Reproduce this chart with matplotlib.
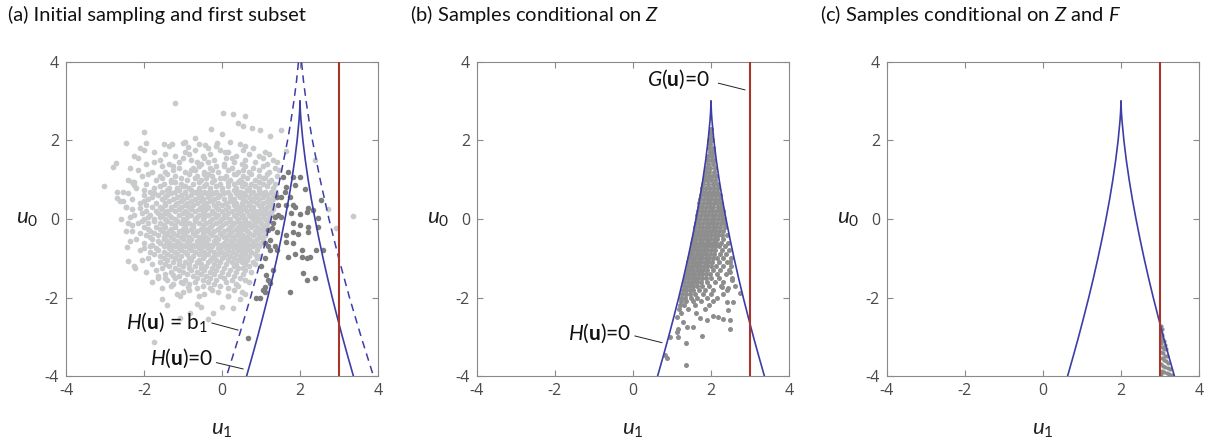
import numpy as np
import matplotlib.pyplot as plt

plt.rcParams['font.family'] = ['Lato', 'DejaVu Sans']
plt.rcParams['mathtext.fontset'] = 'custom'
plt.rcParams['mathtext.rm'] = 'Lato'
plt.rcParams['mathtext.it'] = 'Lato:italic'
plt.rcParams['mathtext.bf'] = 'Lato:bold'
plt.rcParams['axes.unicode_minus'] = False

# limit-state curves: u0 levels and half-width around the cusp
cusp_u1 = 2.0
g_u1 = 3.0
h0_u0 = [3.0, 2.9, 2.8, 2.7, 2.5, 2.0, 1.5, 1.0, 0.5, 0.0, -0.5, -1.0, -1.5, -2.0, -2.5, -3.0, -3.5, -4.0]
h0_half = [0.0, 0.002, 0.007, 0.012, 0.026, 0.074, 0.136, 0.209, 0.292, 0.385, 0.485, 0.592,
           0.706, 0.827, 0.955, 1.087, 1.226, 1.369]
hb_u0 = [4.65, 4.5, 4.2, 4.0, 3.5, 3.0, 2.5, 2.0, 1.0, 0.0, -1.0, -2.0, -3.0, -4.0]
hb_half = [0.0, 0.004, 0.022, 0.039, 0.091, 0.157, 0.233, 0.319, 0.518, 0.742, 0.993, 1.269, 1.567, 1.883]

# (a) initial samples, light cloud: rows of (u0, [u1 ...])
rows_a = [
    (1.95, [-0.95, 0.2]),
    (1.9, [-1.5, -0.6, 0.45]),
    (1.85, [-1.35, -0.15, 0.6]),
    (1.8, [-2.1, -0.35, 0.8]),
    (1.75, [-2.0, -0.7, -0.05, 0.55]),
    (1.7, [-1.75, -0.95, 0.15, 1.1]),
    (1.65, [-1.45, -0.85, -0.3, 0.7, 1.2]),
    (1.6, [-2.25, -1.2, -0.5, 0.35, 0.95]),
    (1.55, [-2.15, -1.0, -0.45, 0.1, 0.25, 1.05]),
    (1.5, [-1.6, -0.8, -0.2, 0.6, 1.3]),
    (1.45, [-1.75, -1.1, -0.65, -0.35, 0.3, 0.85, 1.4]),
    (1.4, [-1.95, -1.35, -0.55, 0.05, 0.5, 1.15]),
    (1.35, [-1.55, -1.25, -0.6, -0.15, 0.05, 0.6, 1.05]),
    (1.3, [-2.35, -1.1, -0.75, -0.3, 0.25, 0.8, 1.35]),
    (1.25, [-2.15, -1.25, -0.8, -0.7, -0.25, 0.15, 0.55, 0.95, 1.45]),
    (1.2, [-1.8, -1.45, -0.95, -0.45, -0.1, 0.4, 0.7, 1.2]),
    (1.15, [-1.9, -1.4, -0.85, -0.45, -0.35, 0.3, 0.35, 0.75, 1.15]),
    (1.1, [-2.05, -1.6, -1.2, -0.65, -0.25, 0.1, 0.55, 0.95, 1.4]),
    (1.05, [-1.55, -1.05, -0.7, -0.4, -0.05, 0.05, 0.65, 1.05, 1.1]),
    (1.0, [-2.4, -1.7, -1.3, -0.9, -0.55, -0.2, 0.2, 0.45, 0.85, 1.25]),
    (0.95, [-2.25, -1.3, -1.2, -0.6, -0.25, 0.15, 0.4, 0.5, 0.95, 1.2]),
    (0.9, [-1.95, -1.5, -1.05, -0.75, -0.4, -0.05, 0.3, 0.6, 0.75, 1.05, 1.35]),
    (0.85, [-1.6, -1.0, -0.95, -0.45, -0.15, 0.15, 0.5, 0.55, 0.85, 1.15]),
    (0.8, [-2.2, -1.75, -1.35, -1.15, -0.85, -0.6, -0.3, 0.0, 0.35, 0.7, 0.95, 1.3]),
    (0.75, [-2.0, -1.4, -1.1, -0.8, -0.6, -0.3, 0.0, 0.3, 0.35, 0.65, 0.95]),
    (0.7, [-2.55, -1.85, -1.55, -1.2, -0.95, -0.7, -0.45, -0.15, 0.15, 0.45, 0.8, 1.1, 1.25]),
    (0.65, [-2.4, -1.75, -1.3, -0.95, -0.65, -0.4, -0.2, 0.05, 0.35, 0.55, 0.75, 1.0, 1.38]),
    (0.6, [-2.0, -1.65, -1.4, -1.05, -0.8, -0.55, -0.3, -0.05, 0.2, 0.4, 0.6, 0.9, 1.15, 1.3]),
    (0.55, [-1.8, -1.45, -1.15, -0.9, -0.6, -0.35, -0.1, 0.2, 0.45, 0.7, 0.85, 1.05]),
    (0.5, [-2.3, -1.9, -1.55, -1.25, -1.0, -0.7, -0.5, -0.2, 0.05, 0.3, 0.55, 0.75, 0.95, 1.2, 1.3]),
    (0.45, [-2.55, -2.0, -1.35, -1.05, -0.8, -0.55, -0.3, -0.25, 0.2, 0.25, 0.6, 0.8, 1.15]),
    (0.4, [-2.1, -1.7, -1.45, -1.15, -0.9, -0.65, -0.4, -0.1, 0.1, 0.35, 0.5, 0.7, 0.9, 1.05, 1.25]),
    (0.35, [-1.95, -1.45, -1.2, -0.95, -0.75, -0.45, -0.2, 0.0, 0.3, 0.5, 0.7, 0.95, 1.2]),
    (0.3, [-2.45, -1.8, -1.6, -1.3, -1.05, -0.85, -0.55, -0.35, -0.15, 0.15, 0.4, 0.6, 0.8, 1.0, 1.15, 1.3]),
    (0.25, [-2.3, -1.55, -1.3, -1.1, -0.8, -0.6, -0.4, -0.1, 0.1, 0.35, 0.55, 0.75, 1.05, 1.3]),
    (0.2, [-1.95, -1.7, -1.4, -1.2, -0.95, -0.7, -0.45, -0.25, 0.0, 0.25, 0.45, 0.65, 0.85, 0.95, 1.1, 1.25]),
    (0.15, [-2.05, -1.65, -1.45, -1.0, -0.9, -0.5, -0.25, -0.2, 0.15, 0.4, 0.45, 0.8, 1.0, 1.15]),
    (0.1, [-2.25, -1.85, -1.55, -1.35, -1.1, -0.8, -0.6, -0.35, -0.1, 0.05, 0.3, 0.55, 0.7, 0.9, 1.05, 1.2, 1.27]),
    (0.05, [-2.35, -1.9, -1.6, -1.3, -0.9, -0.65, -0.45, -0.15, 0.1, 0.35, 0.5, 0.75, 0.85, 1.05]),
    (0.0, [-2.6, -2.0, -1.75, -1.45, -1.2, -1.0, -0.7, -0.5, -0.25, 0.0, 0.2, 0.4, 0.6, 0.8, 0.95, 1.1, 1.2]),
    (-0.05, [-2.05, -1.75, -1.4, -1.15, -0.95, -0.7, -0.3, -0.05, 0.2, 0.4, 0.6, 0.9, 1.2]),
    (-0.1, [-2.4, -2.15, -1.9, -1.6, -1.3, -1.05, -0.85, -0.6, -0.4, -0.15, 0.1, 0.3, 0.5, 0.7, 0.85, 1.0, 1.15]),
    (-0.15, [-2.3, -1.5, -1.2, -0.95, -0.75, -0.5, -0.25, 0.0, 0.25, 0.45, 0.65, 0.8, 1.1]),
    (-0.2, [-2.0, -1.7, -1.45, -1.2, -0.95, -0.75, -0.5, -0.3, -0.05, 0.2, 0.4, 0.6, 0.75, 0.9, 1.05, 1.15]),
    (-0.25, [-1.9, -1.6, -1.3, -1.0, -0.8, -0.55, -0.35, -0.1, 0.15, 0.35, 0.55, 0.95]),
    (-0.3, [-2.3, -1.85, -1.55, -1.35, -1.1, -0.9, -0.65, -0.4, -0.2, 0.05, 0.25, 0.45, 0.65, 0.85, 1.0, 1.1]),
    (-0.35, [-2.1, -1.75, -1.45, -1.25, -1.0, -0.75, -0.5, -0.3, -0.05, 0.2, 0.4, 0.7, 0.9]),
    (-0.4, [-1.95, -1.65, -1.4, -1.15, -0.95, -0.7, -0.5, -0.25, 0.0, 0.15, 0.35, 0.55, 0.8, 0.95, 1.1]),
    (-0.45, [-1.85, -1.5, -1.3, -1.05, -0.85, -0.6, -0.4, -0.15, 0.05, 0.25, 0.45, 0.65, 1.0]),
    (-0.5, [-2.2, -1.8, -1.5, -1.25, -1.0, -0.8, -0.55, -0.35, -0.1, 0.1, 0.3, 0.5, 0.7, 0.9, 1.05]),
    (-0.55, [-2.35, -1.65, -1.4, -1.15, -0.9, -0.65, -0.45, -0.2, 0.2, 0.4, 0.6, 0.8]),
    (-0.6, [-2.0, -1.6, -1.35, -1.1, -0.85, -0.6, -0.4, -0.15, 0.05, 0.25, 0.45, 0.65, 0.85, 1.0]),
    (-0.65, [-1.8, -1.45, -1.25, -1.0, -0.75, -0.5, -0.3, -0.05, 0.15, 0.35, 0.55, 0.75, 0.9]),
    (-0.7, [-1.85, -1.5, -1.2, -0.95, -0.7, -0.45, -0.25, 0.0, 0.2, 0.4, 0.6, 0.8, 0.95]),
    (-0.75, [-2.0, -1.7, -1.35, -1.1, -0.85, -0.6, -0.35, -0.1, 0.1, 0.3, 0.5, 0.7]),
    (-0.8, [-2.1, -1.65, -1.3, -1.05, -0.8, -0.55, -0.3, -0.05, 0.15, 0.4, 0.65, 0.9]),
    (-0.85, [-1.85, -1.5, -1.2, -0.95, -0.7, -0.45, -0.2, 0.0, 0.25, 0.5, 0.75]),
    (-0.9, [-1.75, -1.4, -1.15, -0.9, -0.6, -0.35, -0.1, 0.1, 0.35, 0.6, 0.85]),
    (-0.95, [-1.6, -1.3, -1.05, -0.75, -0.45, -0.2, 0.05, 0.2, 0.45, 0.7, 0.95]),
    (-1.0, [-1.9, -1.5, -1.2, -0.85, -0.5, -0.25, 0.0, 0.3, 0.55, 0.9]),
    (-1.05, [-2.05, -1.4, -1.1, -0.8, -0.6, -0.3, -0.15, 0.15, 0.4, 0.65]),
    (-1.1, [-1.6, -1.25, -0.95, -0.65, -0.35, -0.05, 0.25, 0.5, 0.8]),
    (-1.15, [-1.8, -1.45, -1.1, -0.85, -0.55, -0.2, 0.1, 0.35, 0.6, 0.85]),
    (-1.2, [-2.25, -1.35, -1.0, -0.7, -0.4, -0.1, 0.3, 0.7]),
    (-1.25, [-1.55, -1.2, -0.85, -0.55, -0.25, 0.05, 0.4, 0.55]),
    (-1.3, [-1.7, -1.1, -0.8, -0.45, -0.15, 0.2, 0.6]),
    (-1.35, [-1.95, -1.3, -1.0, -0.65, -0.3, 0.0, 0.35, 0.75]),
    (-1.4, [-1.45, -0.9, -0.55, -0.2, 0.15, 0.55]),
    (-1.45, [-1.65, -1.1, -0.75, -0.4, -0.05, 0.3]),
    (-1.5, [-1.2, -0.65, -0.3, 0.05, 0.45]),
    (-1.55, [-1.4, -0.95, -0.5, -0.15, 0.25, 0.6]),
    (-1.6, [-1.05, -0.7, -0.35, 0.1, 0.7]),
    (-1.65, [-1.25, -0.85, -0.2, 0.35]),
    (-1.7, [-1.3, -0.5, -0.05, 0.4]),
    (-1.75, [-1.55, -0.65, -0.3, 0.15]),
    (-1.8, [-0.85, -0.25, 0.3]),
    (-1.85, [-1.0, -0.1, 0.5]),
    (-1.9, [-1.15, -0.45, 0.6]),
    (-1.95, [-0.6, 0.15]),
]
# (a) scattered light samples at the edge of the cloud (u1, u0)
outer_a = [(-1.21, 2.95), (0.03, 2.70), (0.29, 2.68), (0.60, 2.62), (-0.29, 2.29), (-0.01, 2.17),
           (-2.0, 2.22), (0.41, 2.44), (0.54, 2.38), (0.76, 2.33), (0.97, 2.27), (1.52, 2.27),
           (1.23, 2.11), (-2.47, 1.94), (-1.96, 1.93), (-0.70, 2.06), (-1.28, 1.90), (-1.0, 1.93),
           (-0.88, 1.83), (-0.44, 1.89), (-0.14, 1.94), (0.07, 1.71), (-2.73, 1.43), (-2.79, 1.32),
           (-3.02, 0.85), (-2.68, 0.70), (-2.70, 0.53), (-2.62, 0.46), (-2.45, 0.30), (-2.10, 0.27),
           (-2.32, 0.93), (-2.25, 0.87), (-2.45, -0.31), (-2.43, -0.71), (-2.40, -1.07), (-2.23, -1.26),
           (-1.74, -3.13), (-1.55, -2.04), (-1.42, -2.19), (-1.08, -1.95), (-0.65, -2.17), (-0.54, -2.23),
           (-0.23, -2.40), (-0.01, -2.23), (-1.80, -1.60), (-1.64, -1.51), (-1.46, -1.50), (-1.25, -1.43),
           (-0.99, -1.64), (-0.87, -1.73), (-1.08, -2.53), (-0.82, -2.40), (0.29, -2.27), (-0.35, -2.55),
           (0.45, -2.05), (0.15, -1.95), (3.36, 0.08), (2.92, -0.24), (2.72, 0.25), (1.65, 1.72),
           (2.38, 1.50)]
# (a) first subset: samples inside H(u) = b1 (u1, u0)
dark_a = [(1.70, 1.21), (1.99, 1.08), (1.87, 0.87), (1.61, 0.70), (1.74, 0.57), (1.40, 0.57), (1.82, 0.36),
          (1.99, 0.14), (2.17, 0.19), (2.34, 0.23), (2.46, 0.02), (2.21, -0.20), (1.82, -0.11), (1.52, 0.06),
          (1.31, -0.11), (1.18, -0.28), (1.40, -0.32), (1.65, -0.41), (1.82, -0.60), (2.04, -0.79),
          (2.25, -0.96), (2.42, -0.79), (2.59, -0.79), (1.40, -0.79), (1.23, -0.79), (1.10, -0.62),
          (1.31, -1.30), (1.23, -1.64), (1.05, -1.81), (0.88, -2.02), (0.97, -2.02), (1.74, -1.85),
          (2.08, -1.38), (2.38, -1.51), (2.17, -1.55), (0.66, -3.02), (1.27, -0.24), (1.23, -0.54),
          (1.18, -0.70), (1.35, -0.70), (1.65, -0.59), (1.82, -0.32), (1.95, -0.37), (2.21, -0.32),
          (1.70, -0.96), (1.87, -0.88), (2.04, -0.96), (2.17, -1.00), (1.10, -1.00), (1.01, -1.21),
          (1.14, -1.43), (1.18, -1.55), (1.10, -1.72), (1.10, -1.85), (1.57, 1.06), (1.82, 1.06),
          (1.65, 0.82), (1.52, 0.57), (2.12, 0.76), (1.65, 0.36), (1.44, 0.36), (1.87, 0.31), (1.44, 0.10),
          (1.78, 0.16), (2.21, 0.27), (2.55, 0.48), (2.46, -0.20), (1.99, -0.15), (1.35, 0.06)]

# (b) samples conditional on Z: rows of (u0, [u1 ...]) plus scattered tail
rows_b = [
    (2.3, [2.0]), (2.2, [1.98]), (2.1, [2.01]), (2.0, [1.96, 2.03]), (1.9, [1.97]),
    (1.8, [1.94, 2.04]), (1.7, [1.97, 2.06]), (1.6, [1.92, 2.02]), (1.5, [1.90, 2.0, 2.08]),
    (1.4, [1.93, 2.05]), (1.3, [1.88, 1.98, 2.09]), (1.2, [1.86, 1.95, 2.07]),
    (1.1, [1.84, 1.94, 2.03, 2.12]), (1.0, [1.82, 1.9, 2.0, 2.1]), (0.9, [1.8, 1.92, 2.04, 2.15]),
    (0.8, [1.78, 1.88, 1.97, 2.08, 2.18]), (0.7, [1.76, 1.85, 1.95, 2.05, 2.16]),
    (0.6, [1.74, 1.84, 1.93, 2.02, 2.12, 2.22]), (0.5, [1.73, 1.82, 1.92, 2.0, 2.1, 2.2]),
    (0.4, [1.70, 1.80, 1.89, 1.98, 2.07, 2.16, 2.26]), (0.3, [1.69, 1.78, 1.87, 1.97, 2.06, 2.17, 2.25]),
    (0.2, [1.67, 1.76, 1.85, 1.94, 2.03, 2.12, 2.22, 2.3]),
    (0.1, [1.65, 1.74, 1.84, 1.93, 2.02, 2.1, 2.2, 2.28]),
    (0.0, [1.64, 1.72, 1.82, 1.9, 2.0, 2.08, 2.17, 2.27, 2.34]),
    (-0.1, [1.62, 1.70, 1.8, 1.89, 1.98, 2.06, 2.16, 2.25, 2.33]),
    (-0.2, [1.6, 1.68, 1.77, 1.86, 1.95, 2.04, 2.14, 2.22, 2.36]),
    (-0.3, [1.58, 1.67, 1.76, 1.84, 1.94, 2.03, 2.11, 2.2, 2.31]),
    (-0.4, [1.56, 1.64, 1.73, 1.82, 1.91, 2.0, 2.09, 2.18, 2.27, 2.4]),
    (-0.5, [1.54, 1.62, 1.71, 1.8, 1.89, 1.97, 2.07, 2.16, 2.3]),
    (-0.6, [1.52, 1.6, 1.69, 1.78, 1.86, 1.95, 2.04, 2.13, 2.25, 2.44]),
    (-0.7, [1.5, 1.58, 1.67, 1.76, 1.84, 1.93, 2.02, 2.11, 2.2, 2.36]),
    (-0.8, [1.48, 1.56, 1.65, 1.73, 1.82, 1.9, 2.0, 2.1, 2.28, 2.47]),
    (-0.9, [1.46, 1.54, 1.63, 1.71, 1.8, 1.88, 1.98, 2.08, 2.22, 2.38]),
    (-1.0, [1.44, 1.52, 1.6, 1.69, 1.77, 1.86, 1.95, 2.05, 2.16, 2.32, 2.5]),
    (-1.1, [1.42, 1.5, 1.58, 1.67, 1.75, 1.84, 1.93, 2.03, 2.2, 2.42]),
    (-1.2, [1.4, 1.48, 1.56, 1.65, 1.73, 1.82, 1.91, 2.0, 2.12, 2.3, 2.52]),
    (-1.3, [1.38, 1.46, 1.54, 1.63, 1.71, 1.8, 1.9, 2.05, 2.24, 2.45]),
    (-1.4, [1.36, 1.44, 1.52, 1.6, 1.69, 1.78, 1.88, 1.98, 2.15, 2.38]),
    (-1.5, [1.34, 1.42, 1.5, 1.58, 1.67, 1.76, 1.86, 2.0, 2.2, 2.55]),
    (-1.6, [1.32, 1.4, 1.48, 1.57, 1.65, 1.75, 1.9, 2.1, 2.32]),
    (-1.7, [1.3, 1.38, 1.46, 1.55, 1.64, 1.78, 1.95, 2.25, 2.62]),
    (-1.8, [1.28, 1.36, 1.45, 1.55, 1.68, 1.85, 2.05, 2.4]),
    (-1.9, [1.26, 1.35, 1.45, 1.6, 1.8, 2.0, 2.3]),
    (-2.0, [1.24, 1.33, 1.48, 1.65, 1.9, 2.15]),
    (-2.1, [1.22, 1.35, 1.55, 1.75, 2.05]),
    (-2.2, [1.2, 1.32, 1.6, 1.95]),
    (-2.3, [1.18, 1.4, 1.85]),
    (-2.4, [1.22, 1.62]),
]
tail_b = [(2.44, -2.32), (2.49, -2.57), (2.49, -2.79), (2.19, -2.49), (2.06, -2.47), (1.89, -2.57),
          (1.72, -2.53), (1.55, -2.76), (1.38, -2.74), (1.16, -2.81), (1.16, -3.00), (0.95, -3.01),
          (1.36, -3.15), (1.76, -2.98), (0.82, -3.47), (0.86, -3.55), (1.36, -3.72), (2.74, -1.89),
          (2.57, -2.11), (2.40, -2.11), (1.29, -2.62), (1.12, -2.49), (2.32, -2.56), (2.53, -1.55),
          (2.49, -1.34), (2.49, -1.09), (2.27, -1.72), (2.44, -1.77), (1.12, -2.87)]

# (c) samples conditional on Z and F (u1, u0)
pts_c = [(3.02, -2.72), (3.05, -2.8), (3.03, -2.9), (3.06, -2.95), (3.02, -3.0), (3.06, -3.08), (3.1, -3.1),
         (3.03, -3.15), (3.12, -3.2), (3.05, -3.25), (3.09, -3.3), (3.15, -3.32), (3.02, -3.38),
         (3.07, -3.42), (3.12, -3.48), (3.18, -3.5), (3.04, -3.55), (3.1, -3.6), (3.15, -3.63),
         (3.21, -3.66), (3.03, -3.7), (3.08, -3.74), (3.13, -3.78), (3.2, -3.8), (3.26, -3.83),
         (3.05, -3.86), (3.11, -3.9), (3.17, -3.93), (3.24, -3.95), (3.3, -3.98), (3.02, -3.95)]

titles = ['(a) Initial sampling and first subset',
          r'(b) Samples conditional on $Z$',
          r'(c) Samples conditional on $Z$ and $F$']
ticks = [-4, -2, 0, 2, 4]

blue = '#3d3da8'
red = '#a8342a'
light = '#c9cacc'
dark = '#7d7d7d'
mid = '#8d8d8d'
axcol = '#8a8a8a'
txtcol = '#4a4a4a'

fig = plt.figure(figsize=(12.1, 4.44), dpi=100)
lefts = [66 / 1210, 477 / 1210, 887 / 1210]
axes = [fig.add_axes([l, 68 / 444, 312 / 1210, 314 / 444]) for l in lefts]

h0_left = [cusp_u1 - h for h in h0_half]
h0_right = [cusp_u1 + h for h in h0_half]
hb_left = [cusp_u1 - h for h in hb_half]
hb_right = [cusp_u1 + h for h in hb_half]

for ax in axes:
    ax.set_xlim(-4, 4)
    ax.set_ylim(-4, 4)
    ax.set_xticks(ticks)
    ax.set_yticks(ticks)
    ax.tick_params(direction='in', length=4, width=0.8, color=axcol, labelcolor=txtcol,
                   labelsize=11.5, top=True, right=True, pad=5)
    for lab in ax.get_xticklabels() + ax.get_yticklabels():
        lab.set_family('Open Sans')
    for s in ax.spines.values():
        s.set_color(axcol)
        s.set_linewidth(0.8)
    ax.set_xlabel(r'$u_1$', fontsize=16, color='#222222')
    ax.xaxis.set_label_coords(0.5, -0.14)
    ax.set_ylabel(r'$u_0$', fontsize=16, color='#222222', rotation=0, va='center')
    ax.yaxis.set_label_coords(-0.125, 0.5)

# panel (a)
ax = axes[0]
la_u1 = [u for u0, row in rows_a for u in row] + [p[0] for p in outer_a]
la_u0 = [u0 for u0, row in rows_a for u in row] + [p[1] for p in outer_a]
ax.scatter(la_u1, la_u0, s=17, color=light, linewidths=0, zorder=1)
ax.scatter([p[0] for p in dark_a], [p[1] for p in dark_a], s=16, color=dark, linewidths=0, zorder=2)
ax.plot(hb_left, hb_u0, color=blue, lw=1.1, ls=(0, (5, 3.5)), zorder=3)
ax.plot(hb_right, hb_u0, color=blue, lw=1.1, ls=(0, (5, 3.5)), zorder=3)
ax.plot(h0_left, h0_u0, color=blue, lw=1.2, zorder=3)
ax.plot(h0_right, h0_u0, color=blue, lw=1.2, zorder=3)
ax.axvline(g_u1, color=red, lw=1.5, zorder=4)
ax.text(-0.35, -2.62, r'$H(\mathbf{u})$ = b$_1$', fontsize=15, ha='right', va='center', color='#111111')
ax.plot([-0.26, 0.41], [-2.65, -2.83], color='#222222', lw=0.7)
ax.text(-0.23, -3.55, r'$H(\mathbf{u})$=0', fontsize=15, ha='right', va='center', color='#111111')
ax.plot([-0.14, 0.54], [-3.66, -3.82], color='#222222', lw=0.7)

# panel (b)
ax = axes[1]
b_u1 = [u for u0, row in rows_b for u in row] + [p[0] for p in tail_b]
b_u0 = [u0 for u0, row in rows_b for u in row] + [p[1] for p in tail_b]
ax.scatter(b_u1, b_u0, s=13, color=mid, linewidths=0, zorder=1)
ax.plot(h0_left, h0_u0, color=blue, lw=1.2, zorder=3)
ax.plot(h0_right, h0_u0, color=blue, lw=1.2, zorder=3)
ax.axvline(g_u1, color=red, lw=1.5, zorder=4)
ax.text(1.98, 3.55, r'$G(\mathbf{u})$=0', fontsize=15, ha='right', va='center', color='#111111')
ax.plot([2.19, 2.87], [3.46, 3.29], color='#222222', lw=0.7)
ax.text(-0.05, -2.92, r'$H(\mathbf{u})$=0', fontsize=15, ha='right', va='center', color='#111111')
ax.plot([0.05, 0.74], [-2.98, -3.15], color='#222222', lw=0.7)

# panel (c)
ax = axes[2]
ax.scatter([p[0] for p in pts_c], [p[1] for p in pts_c], s=9, color=mid, linewidths=0, zorder=1)
ax.plot(h0_left, h0_u0, color=blue, lw=1.2, zorder=3)
ax.plot(h0_right, h0_u0, color=blue, lw=1.2, zorder=3)
ax.axvline(g_u1, color=red, lw=1.5, zorder=4)

title_x = [8 / 1210, 410 / 1210, 820 / 1210]
for tx, t in zip(title_x, titles):
    fig.text(tx, 1 - 15 / 444, t, fontsize=14.5, ha='left', va='center', color='#111111')

fig.savefig('out.png', dpi=100)
